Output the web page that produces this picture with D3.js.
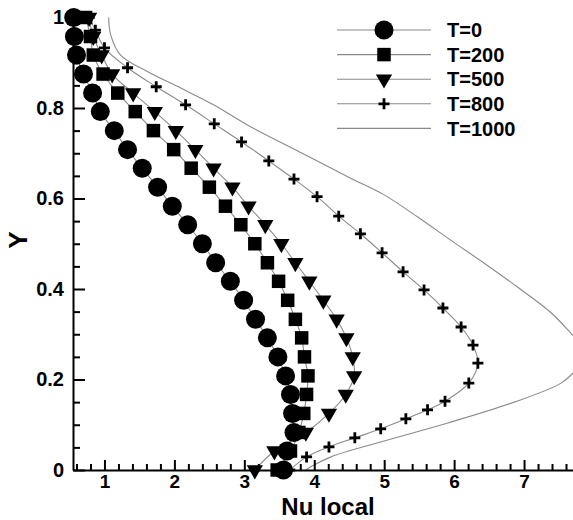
<!DOCTYPE html>
<html lang="en">
<head>
<meta charset="UTF-8">
<title>Nu local</title>
<style>
  body { margin: 0; background: #fff; }
  svg { display: block; }
  .curve { fill: none; stroke: #8a8a8a; stroke-width: 1.1px; }
  .axis path, .axis line { stroke: #000; stroke-width: 2px; }
  .axis text { font-family: "Liberation Sans", Arial, sans-serif; font-size: 20px; font-weight: bold; fill: #000; }
  .axis.xlab text { font-size: 19px; }
  .label { font-family: "Liberation Sans", Arial, sans-serif; font-weight: bold; fill: #000; }
</style>
</head>
<body>
<script src="https://d3js.org/d3.v7.min.js"></script>
<script>
// values
const series = ['T=0', 'T=200', 'T=500', 'T=800', 'T=1000'];

// shared Y levels for T=0, 200, 500 markers
const yLevels = [1.0, 0.958, 0.917, 0.875, 0.833, 0.792, 0.75, 0.708, 0.667, 0.625, 0.583, 0.542,
  0.5, 0.458, 0.417, 0.375, 0.333, 0.292, 0.25, 0.208, 0.167, 0.125, 0.083, 0.042, 0.0];

const nuT0 = [0.56, 0.57, 0.60, 0.70, 0.83, 0.94, 1.14, 1.33, 1.54, 1.76, 1.97, 2.19,
  2.40, 2.59, 2.80, 2.99, 3.16, 3.33, 3.48, 3.59, 3.66, 3.69, 3.71, 3.61, 3.56];
const nuT200 = [0.73, 0.80, 0.84, 0.98, 1.19, 1.44, 1.70, 1.99, 2.24, 2.50, 2.73, 2.95,
  3.15, 3.33, 3.49, 3.62, 3.73, 3.82, 3.86, 3.91, 3.89, 3.85, 3.78, 3.66, 3.47];
const nuT500 = [0.78, 0.84, 0.96, 1.11, 1.41, 1.72, 2.02, 2.30, 2.56, 2.83, 3.06, 3.30,
  3.53, 3.73, 3.93, 4.13, 4.32, 4.46, 4.55, 4.57, 4.45, 4.21, 3.88, 3.43, 3.15];

const yT800 = [1.0, 0.972, 0.933, 0.889, 0.847, 0.807, 0.765, 0.725, 0.683, 0.643, 0.604, 0.561,
  0.522, 0.480, 0.438, 0.398, 0.358, 0.316, 0.276, 0.236, 0.192, 0.152, 0.133, 0.113,
  0.091, 0.071, 0.051, 0.029, 0.0];
const nuT800 = [0.78, 0.87, 1.00, 1.33, 1.74, 2.16, 2.57, 2.96, 3.35, 3.71, 4.04, 4.35,
  4.66, 4.97, 5.27, 5.57, 5.84, 6.10, 6.27, 6.34, 6.21, 5.87, 5.62, 5.31,
  4.95, 4.58, 4.21, 3.89, 3.65];

const yT1000 = [1.0, 0.961, 0.917, 0.880, 0.844, 0.807, 0.762, 0.703, 0.645, 0.608, 0.559, 0.508,
  0.457, 0.404, 0.347, 0.294, 0.254, 0.217, 0.192, 0.150, 0.104, 0.062, 0.029, 0.007, 0.0];
const nuT1000 = [1.06, 1.09, 1.23, 1.62, 2.09, 2.56, 3.05, 3.79, 4.52, 5.00, 5.48, 5.95,
  6.43, 6.91, 7.39, 7.72, 7.96, 7.72, 7.53, 6.86, 5.91, 4.95, 4.24, 3.95, 3.88];

const xTicks = [1, 2, 3, 4, 5, 6, 7];
const yTicks = [0, 0.2, 0.4, 0.6, 0.8, 1];

const W = 573, H = 520;
const plotLeft = 73, plotRight = 573, plotTop = 17.5, plotBottom = 470;

const x = d3.scaleLinear().domain([0.55, 7.7]).range([plotLeft, plotRight]);
const y = d3.scaleLinear().domain([0, 1]).range([plotBottom, plotTop]);

const svg = d3.select('body').append('svg')
  .attr('width', W)
  .attr('height', H);

// lines are cut at the right edge of the frame
svg.append('defs').append('clipPath').attr('id', 'plot')
  .append('rect')
  .attr('x', 0).attr('y', 0)
  .attr('width', plotRight).attr('height', plotBottom + 12);

const zip = (xs, ys) => xs.map((v, i) => ({ nu: v, y: ys[i] }));
const data = [
  { name: series[0], pts: zip(nuT0, yLevels), mark: 'circle' },
  { name: series[1], pts: zip(nuT200, yLevels), mark: 'square' },
  { name: series[2], pts: zip(nuT500, yLevels), mark: 'triangle' },
  { name: series[3], pts: zip(nuT800, yT800), mark: 'plus' },
  { name: series[4], pts: zip(nuT1000, yT1000), mark: null },
];

const line = d3.line()
  .x(d => x(d.nu))
  .y(d => y(d.y))
  .curve(d3.curveCatmullRom.alpha(0.5));

function drawMark(g, kind) {
  if (kind === 'circle') {
    g.append('path').attr('d', d3.symbol(d3.symbolCircle, Math.PI * 9.5 * 9.5)()).attr('fill', '#000');
  } else if (kind === 'square') {
    g.append('path').attr('d', d3.symbol(d3.symbolSquare, 13.5 * 13.5)()).attr('fill', '#000');
  } else if (kind === 'triangle') {
    g.append('path').attr('d', d3.symbol(d3.symbolTriangle, 115)())
      .attr('transform', 'rotate(180)').attr('fill', '#000');
  } else if (kind === 'plus') {
    g.append('path').attr('d', 'M-5.5,0H5.5M0,-5.5V5.5')
      .attr('stroke', '#000').attr('stroke-width', 2.8).attr('fill', 'none');
  }
}

// lines first
svg.append('g').attr('clip-path', 'url(#plot)')
  .selectAll('.curve')
  .data(data)
  .join('path')
  .attr('class', 'curve')
  .attr('d', d => line(d.pts));

// markers on top
const marks = svg.append('g');
data.filter(d => d.mark).forEach(s => {
  s.pts.forEach(p => {
    const g = marks.append('g').attr('transform', `translate(${x(p.nu)},${y(p.y)})`);
    drawMark(g, s.mark);
  });
});

// axes
const fmt = d3.format('~g');
const xMinor = d3.range(0.6, 7.61, 0.2).filter(v => Math.abs(v - Math.round(v)) > 0.01);
const yMinor = d3.range(0.05, 1, 0.05).filter(v => Math.abs(v * 5 - Math.round(v * 5)) > 0.01);

svg.append('g').attr('class', 'axis')
  .attr('transform', `translate(0,${plotBottom})`)
  .call(d3.axisBottom(x).tickValues(xMinor).tickSize(-6).tickSizeOuter(0).tickFormat(''))
  .call(g => g.select('.domain').remove());

svg.append('g').attr('class', 'axis xlab')
  .attr('transform', `translate(0,${plotBottom})`)
  .call(d3.axisBottom(x).tickValues(xTicks).tickSize(-10).tickSizeOuter(0).tickPadding(5).tickFormat(fmt));

svg.append('g').attr('class', 'axis')
  .attr('transform', `translate(${plotLeft},0)`)
  .call(d3.axisLeft(y).tickValues(yMinor).tickSize(-7).tickSizeOuter(0).tickFormat(''))
  .call(g => g.select('.domain').remove());

svg.append('g').attr('class', 'axis')
  .attr('transform', `translate(${plotLeft},0)`)
  .call(d3.axisLeft(y).tickValues(yTicks).tickSize(-12).tickSizeOuter(0).tickPadding(9).tickFormat(fmt));

// axis titles
svg.append('text').attr('class', 'label')
  .attr('x', 328).attr('y', 514.5)
  .attr('text-anchor', 'middle')
  .style('font-size', '24px')
  .text('Nu local');

svg.append('text').attr('class', 'label')
  .attr('transform', 'translate(27,240) rotate(-90)')
  .attr('text-anchor', 'middle')
  .style('font-size', '26px')
  .text('Y');

// legend
const legend = svg.append('g').attr('transform', 'translate(337,30)');
data.forEach((s, i) => {
  const row = legend.append('g').attr('transform', `translate(0,${i * 24.6})`);
  row.append('line').attr('class', 'curve')
    .attr('x1', 0).attr('x2', 94).attr('y1', 0).attr('y2', 0);
  const m = row.append('g').attr('transform', 'translate(47,0)');
  drawMark(m, s.mark);
  row.append('text').attr('class', 'label')
    .attr('x', 110).attr('y', 0).attr('dy', '0.36em')
    .style('font-size', '20px')
    .text(s.name);
});
</script>
</body>
</html>
